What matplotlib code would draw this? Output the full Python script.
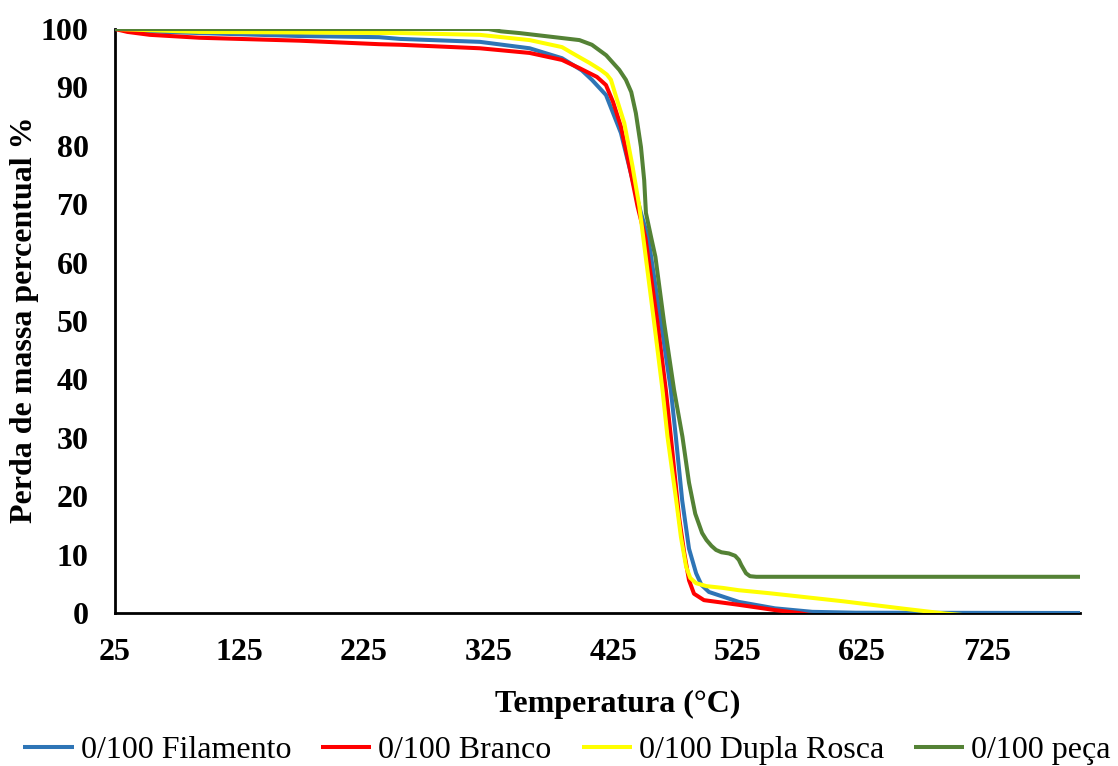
import matplotlib
matplotlib.use("Agg")
import matplotlib.pyplot as plt

# ---- data ----
series_names = ["0/100 Filamento", "0/100 Branco", "0/100 Dupla Rosca", "0/100 peça"]
series_colors = ["#2E75B6", "#FF0000", "#FFFF00", "#548235"]

t_filamento = [25, 50, 93, 173, 237, 254, 318, 358, 384, 400, 408, 419.3, 431.3, 440.7, 447.4,
               453.3, 463.5, 471.4, 475.4, 480.5, 486, 491.7, 496, 502, 526, 555, 585, 620, 800]
m_filamento = [100, 99.6, 99.3, 98.8, 98.6, 98.3, 97.8, 96.7, 95.0, 92.9, 91.3, 88.7, 82.2, 74.1,
               68.5, 64.2, 49.7, 38.2, 30.2, 19.3, 11, 6.8, 4.8, 3.6, 1.9, 0.8, 0.2, 0.05, 0]

t_branco = [25, 35, 53, 93, 173, 237, 254, 318, 358, 384, 398, 412, 419.3, 425, 431.3, 439.3,
            444.7, 451, 460.7, 467.4, 471.4, 478, 482, 486, 490, 498, 526, 555, 574, 582, 620, 800]
m_branco = [100, 99.5, 99.0, 98.5, 98.0, 97.4, 97.3, 96.7, 95.9, 94.7, 93.3, 91.8, 90.4, 87.5,
            83.3, 75.3, 69.6, 64.2, 49.7, 38.2, 30.2, 16.4, 10.5, 5.6, 3.3, 2.2, 1.4, 0.5, 0,
            -0.3, -0.8, -1.5]

t_dupla = [25, 93, 254, 318, 358, 384, 392, 406, 415, 420, 423.3, 428, 434, 440.7, 446.1, 449.3,
           458, 464.7, 468.7, 475.7, 479.5, 483.7, 487, 491.7, 500, 513, 526, 550, 580, 610, 633,
           660, 692, 720, 800]
m_dupla = [100, 99.5, 99.3, 99.0, 98.1, 96.9, 95.9, 94.2, 93.0, 92.2, 91.3, 88.0, 83.9, 76.4,
           69.6, 64.2, 49.7, 38.2, 30.2, 19.3, 13, 7.9, 6.0, 5.1, 4.6, 4.3, 3.9, 3.4, 2.7, 2.0,
           1.4, 0.7, -0.1, -0.6, -1]

t_peca = [25, 325, 335, 350, 382, 398, 408, 419.5, 430, 435.3, 439.6, 443.3, 447.4, 450, 451.4,
          455.7, 459, 466, 474, 480.7, 486, 491, 496.5, 500, 504, 507.7, 512, 518, 523, 526,
          528, 531.8, 535, 540, 800]
m_peca = [100, 100, 99.6, 99.3, 98.5, 98.1, 97.3, 95.5, 93.0, 91.3, 89.2, 85.6, 79.8, 74.1,
          68.5, 64.2, 61, 49.7, 38.2, 30.2, 22.3, 17, 13.7, 12.5, 11.5, 10.8, 10.4, 10.2, 9.8,
          9.1, 8.2, 6.8, 6.3, 6.2, 6.2]

x_ticks = [25, 125, 225, 325, 425, 525, 625, 725]
y_ticks = [0, 10, 20, 30, 40, 50, 60, 70, 80, 90, 100]
x_label = "Temperatura (°C)"
y_label = "Perda de massa percentual %"

# ---- plot ----
plt.rcParams["font.family"] = ["Liberation Serif", "DejaVu Serif"]

W, H = 1118, 766
fig = plt.figure(figsize=(W / 100, H / 100), dpi=100)
ax = fig.add_axes([115 / W, 1 - 613 / H, (1080 - 115) / W, (613 - 29) / H])

data = [(t_filamento, m_filamento), (t_branco, m_branco), (t_dupla, m_dupla), (t_peca, m_peca)]
for (t, m), name, col in zip(data, series_names, series_colors):
    ax.plot(t, m, color=col, lw=2.9, label=name, solid_joinstyle="round",
            solid_capstyle="butt", zorder=3)

ax.set_xlim(25, 800)
ax.set_ylim(0, 100)
ax.set_xticks(x_ticks)
ax.set_yticks(y_ticks)
ax.tick_params(length=0, labelsize=23)
ax.tick_params(axis="y", pad=19)
ax.tick_params(axis="x", pad=18)
for lab in ax.get_xticklabels() + ax.get_yticklabels():
    lab.set_fontweight("bold")

for s in ["top", "right"]:
    ax.spines[s].set_visible(False)
for s in ["left", "bottom"]:
    ax.spines[s].set_linewidth(2.0)
    ax.spines[s].set_color("black")
    ax.spines[s].set_zorder(2)

fig.text(618 / W, 1 - 704 / H, x_label, fontsize=23, fontweight="bold",
         ha="center", va="center")
fig.text(25 / W, 1 - 320 / H, y_label, fontsize=23, fontweight="bold",
         ha="center", va="center", rotation=90)

fig.legend(loc="center", bbox_to_anchor=(567 / W, 1 - 750 / H), ncol=4, frameon=False,
           fontsize=23, handlelength=1.57, handletextpad=0.22, columnspacing=0.94,
           borderaxespad=0, borderpad=0)

fig.savefig("out.png", dpi=100)
